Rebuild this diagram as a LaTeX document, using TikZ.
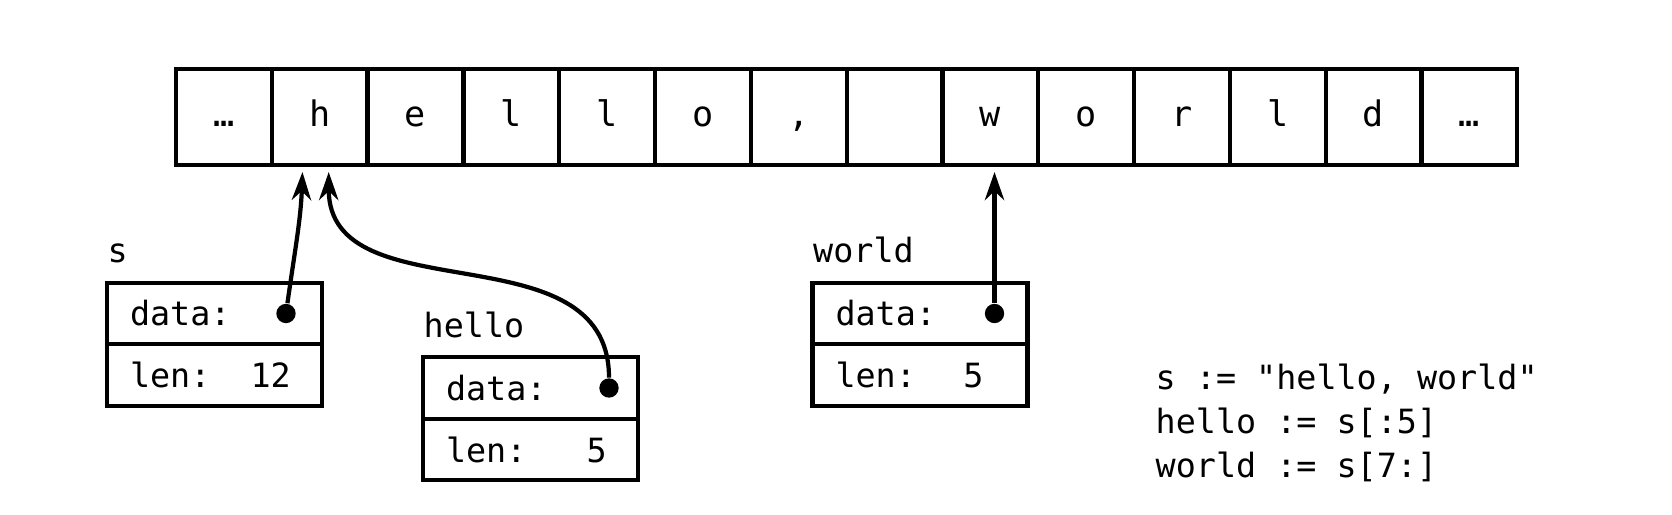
\documentclass[tikz,border=0pt]{standalone}
\usepackage{fontspec}
\setmonofont{DejaVu Sans Mono}
\usetikzlibrary{arrows.meta,positioning}

\begin{document}
\begin{tikzpicture}[
    cell/.style={draw,line width=1.2pt,outer sep=0pt,minimum width=0.958cm,minimum height=0.96cm,inner sep=0pt,text height=1.6ex,text depth=0.4ex,font=\ttfamily\fontsize{10}{12}\selectfont},
    field/.style={draw,line width=1.2pt,outer sep=0pt,minimum height=0.615cm,text width=1.69cm,inner xsep=0.23cm,inner ysep=0pt,align=left,font=\ttfamily\fontsize{9.5}{12}\selectfont},
    lbl/.style={anchor=base west,inner sep=0pt,font=\ttfamily\fontsize{9.5}{12}\selectfont},
    ptr/.style={-{Stealth[length=8pt,width=5.5pt]},line width=1.2pt,shorten >=2pt},
    dot/.style={circle,fill,inner sep=0pt,minimum size=5.5pt}
]
\useasboundingbox (0,0) rectangle (16.72,5.14);

% backing array
\foreach \ch [count=\i] in {…,h,e,l,l,o,{,},{},w,o,r,l,d,…}
    \node[cell] (c\i) at ({2.239+0.958*(\i-1)},3.97) {\ch};

% slice headers
\node[field] (sdata) at (2.145,2.005) {data:};
\node[field,below=0pt of sdata] (slen) {len:\phantom{00}12};
\node[lbl] (sname) at ([yshift=0.2cm]sdata.north west) {s};
\node[dot] (sp) at ([xshift=-0.36cm]sdata.east) {};

\node[field] (hdata) at (5.305,1.26) {data:};
\node[field,below=0pt of hdata] (hlen) {len:\phantom{000}5};
\node[lbl] (hname) at ([yshift=0.2cm]hdata.north west) {hello};
\node[dot] (hp) at ([xshift=-0.29cm]hdata.east) {};

\node[field] (wdata) at (9.20,2.005) {data:};
\node[field,below=0pt of wdata] (wlen) {len:\phantom{00}\kern0.22em5};
\node[lbl] (wname) at ([yshift=0.2cm]wdata.north west) {world};
\node[dot] (wp) at ([xshift=-0.33cm]wdata.east) {};

% pointers into the array
\draw[ptr] (sp) to[out=82,in=-92] ([xshift=-0.17cm]c2.south);
\draw[ptr] (hp) to[out=90,in=-90,looseness=1.1] ([xshift=0.09cm]c2.south);
\draw[ptr] (wp) -- (wp |- c9.south);

\node[anchor=base west,align=left,inner sep=0pt,font=\ttfamily\fontsize{9.5}{12.5}\selectfont] (code) at (11.55,0.37)
    {s := "hello, world"\\hello := s[:5]\\world := s[7:]};
\end{tikzpicture}
\end{document}
